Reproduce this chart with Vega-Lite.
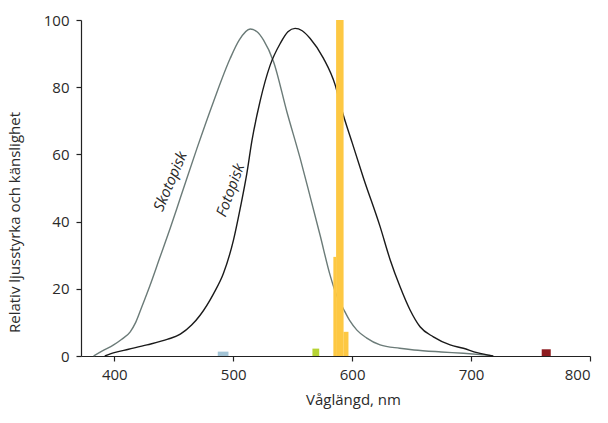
{
  "$schema": "https://vega.github.io/schema/vega-lite/v6.json",
  "width": 509,
  "height": 336,
  "autosize": {"type": "none"},
  "padding": {"left": 81, "top": 20, "right": 18, "bottom": 67},
  "config": {
    "view": {"stroke": null},
    "axis": {
      "grid": false,
      "domainColor": "#222",
      "tickColor": "#222",
      "labelColor": "#2a2a2a",
      "titleColor": "#2a2a2a",
      "labelFont": "Open Sans",
      "titleFont": "Open Sans",
      "labelFontSize": 15,
      "titleFontSize": 15,
      "titleFontWeight": "normal",
      "tickSize": 5,
      "domainWidth": 1.2,
      "tickWidth": 1.2
    }
  },
  "layer": [
    {
      "data": {"values": [
        {"nm": 382.6, "v": 0, "kurva": "Skotopisk"},
        {"nm": 390, "v": 1.5, "kurva": "Skotopisk"},
        {"nm": 399.4, "v": 3.3, "kurva": "Skotopisk"},
        {"nm": 406, "v": 4.9, "kurva": "Skotopisk"},
        {"nm": 413.4, "v": 7.2, "kurva": "Skotopisk"},
        {"nm": 418, "v": 10, "kurva": "Skotopisk"},
        {"nm": 423, "v": 14.5, "kurva": "Skotopisk"},
        {"nm": 430, "v": 21, "kurva": "Skotopisk"},
        {"nm": 438, "v": 29, "kurva": "Skotopisk"},
        {"nm": 447, "v": 38, "kurva": "Skotopisk"},
        {"nm": 455.5, "v": 47, "kurva": "Skotopisk"},
        {"nm": 469.5, "v": 61.8, "kurva": "Skotopisk"},
        {"nm": 483.4, "v": 75.7, "kurva": "Skotopisk"},
        {"nm": 497.5, "v": 88.6, "kurva": "Skotopisk"},
        {"nm": 505, "v": 94, "kurva": "Skotopisk"},
        {"nm": 514.3, "v": 97.3, "kurva": "Skotopisk"},
        {"nm": 520, "v": 96.5, "kurva": "Skotopisk"},
        {"nm": 525.5, "v": 94, "kurva": "Skotopisk"},
        {"nm": 533.9, "v": 87.6, "kurva": "Skotopisk"},
        {"nm": 545.1, "v": 72.7, "kurva": "Skotopisk"},
        {"nm": 556.3, "v": 58.8, "kurva": "Skotopisk"},
        {"nm": 565, "v": 47, "kurva": "Skotopisk"},
        {"nm": 573, "v": 36, "kurva": "Skotopisk"},
        {"nm": 581.5, "v": 24, "kurva": "Skotopisk"},
        {"nm": 587, "v": 18, "kurva": "Skotopisk"},
        {"nm": 592.7, "v": 14, "kurva": "Skotopisk"},
        {"nm": 598, "v": 10.5, "kurva": "Skotopisk"},
        {"nm": 604, "v": 7.7, "kurva": "Skotopisk"},
        {"nm": 612, "v": 5.4, "kurva": "Skotopisk"},
        {"nm": 623.5, "v": 3.3, "kurva": "Skotopisk"},
        {"nm": 640, "v": 2.3, "kurva": "Skotopisk"},
        {"nm": 652, "v": 1.8, "kurva": "Skotopisk"},
        {"nm": 675, "v": 1.2, "kurva": "Skotopisk"},
        {"nm": 693.5, "v": 0.8, "kurva": "Skotopisk"},
        {"nm": 716, "v": 0.2, "kurva": "Skotopisk"},
        {"nm": 392, "v": 0, "kurva": "Fotopisk"},
        {"nm": 400, "v": 1, "kurva": "Fotopisk"},
        {"nm": 412, "v": 2, "kurva": "Fotopisk"},
        {"nm": 427.5, "v": 3.3, "kurva": "Fotopisk"},
        {"nm": 445, "v": 5, "kurva": "Fotopisk"},
        {"nm": 455.5, "v": 6.5, "kurva": "Fotopisk"},
        {"nm": 465, "v": 9.2, "kurva": "Fotopisk"},
        {"nm": 472.3, "v": 12.2, "kurva": "Fotopisk"},
        {"nm": 483.4, "v": 18.5, "kurva": "Fotopisk"},
        {"nm": 491.8, "v": 24.6, "kurva": "Fotopisk"},
        {"nm": 500.2, "v": 34.5, "kurva": "Fotopisk"},
        {"nm": 505.9, "v": 44, "kurva": "Fotopisk"},
        {"nm": 511.5, "v": 54.4, "kurva": "Fotopisk"},
        {"nm": 515.7, "v": 64, "kurva": "Fotopisk"},
        {"nm": 522.7, "v": 76, "kurva": "Fotopisk"},
        {"nm": 531, "v": 86.5, "kurva": "Fotopisk"},
        {"nm": 539.5, "v": 93, "kurva": "Fotopisk"},
        {"nm": 546, "v": 96.5, "kurva": "Fotopisk"},
        {"nm": 552, "v": 97.5, "kurva": "Fotopisk"},
        {"nm": 558, "v": 96.8, "kurva": "Fotopisk"},
        {"nm": 564.7, "v": 94.5, "kurva": "Fotopisk"},
        {"nm": 575.9, "v": 88.6, "kurva": "Fotopisk"},
        {"nm": 585.7, "v": 80.7, "kurva": "Fotopisk"},
        {"nm": 591.3, "v": 73.2, "kurva": "Fotopisk"},
        {"nm": 600, "v": 63.5, "kurva": "Fotopisk"},
        {"nm": 609.5, "v": 53, "kurva": "Fotopisk"},
        {"nm": 623.5, "v": 38.5, "kurva": "Fotopisk"},
        {"nm": 632, "v": 28.6, "kurva": "Fotopisk"},
        {"nm": 640.3, "v": 20.6, "kurva": "Fotopisk"},
        {"nm": 648.7, "v": 13.7, "kurva": "Fotopisk"},
        {"nm": 657.1, "v": 8.7, "kurva": "Fotopisk"},
        {"nm": 668.3, "v": 5.7, "kurva": "Fotopisk"},
        {"nm": 682.4, "v": 3.3, "kurva": "Fotopisk"},
        {"nm": 693.5, "v": 2.3, "kurva": "Fotopisk"},
        {"nm": 705, "v": 1, "kurva": "Fotopisk"},
        {"nm": 718.7, "v": 0, "kurva": "Fotopisk"}
      ]},
      "mark": {"type": "line", "strokeWidth": 1.4, "interpolate": "monotone"},
      "encoding": {
        "x": {"field": "nm", "type": "quantitative",
              "scale": {"domain": [372, 800], "nice": false, "zero": false},
              "axis": {"values": [400, 500, 600, 700, 800], "title": "Våglängd, nm", "labelPadding": 6, "titlePadding": 10, "titleX": 272, "titleAlign": "center"}},
        "y": {"field": "v", "type": "quantitative",
              "scale": {"domain": [0, 100], "nice": false},
              "axis": {"values": [0, 20, 40, 60, 80, 100], "title": "Relativ ljusstyrka och känslighet", "labelPadding": 7,
                       "titleY": 202, "titleX": -62, "titleAngle": -90, "titleBaseline": "alphabetic", "titleAlign": "center"}},
        "stroke": {"field": "kurva", "type": "nominal",
                   "scale": {"domain": ["Skotopisk", "Fotopisk"], "range": ["#6b7b78", "#1a1a1a"]},
                   "legend": null},
        "detail": {"field": "kurva"}
      }
    },
    {
      "data": {"values": [
        {"start": 487, "end": 496, "h": 1.3, "farg": "blå"},
        {"start": 566.6, "end": 572.3, "h": 2.2, "farg": "grön"},
        {"start": 584.2, "end": 586.6, "h": 29.5, "farg": "gul"},
        {"start": 586.5, "end": 592.8, "h": 100, "farg": "gul"},
        {"start": 592.7, "end": 596.9, "h": 7.2, "farg": "gul"},
        {"start": 759.4, "end": 767, "h": 2, "farg": "röd"}
      ]},
      "mark": {"type": "rect"},
      "encoding": {
        "x": {"field": "start", "type": "quantitative"},
        "x2": {"field": "end"},
        "y": {"field": "h", "type": "quantitative"},
        "y2": {"datum": 0},
        "fill": {"field": "farg", "type": "nominal",
                 "scale": {"domain": ["blå", "grön", "gul", "röd"], "range": ["#a3c4d6", "#b6d334", "#fdc843", "#8e1c20"]},
                 "legend": null}
      }
    },
    {
      "data": {"values": [
        {"nm": 447, "v": 52, "label": "Skotopisk", "vinkel": 293},
        {"nm": 497.5, "v": 49.4, "label": "Fotopisk", "vinkel": 290}
      ]},
      "mark": {"type": "text", "font": "Open Sans", "fontSize": 15, "fontStyle": "italic", "color": "#2a2a2a", "align": "center", "baseline": "middle"},
      "encoding": {
        "x": {"field": "nm", "type": "quantitative"},
        "y": {"field": "v", "type": "quantitative"},
        "text": {"field": "label"},
        "angle": {"field": "vinkel", "type": "quantitative", "scale": null}
      }
    }
  ]
}
